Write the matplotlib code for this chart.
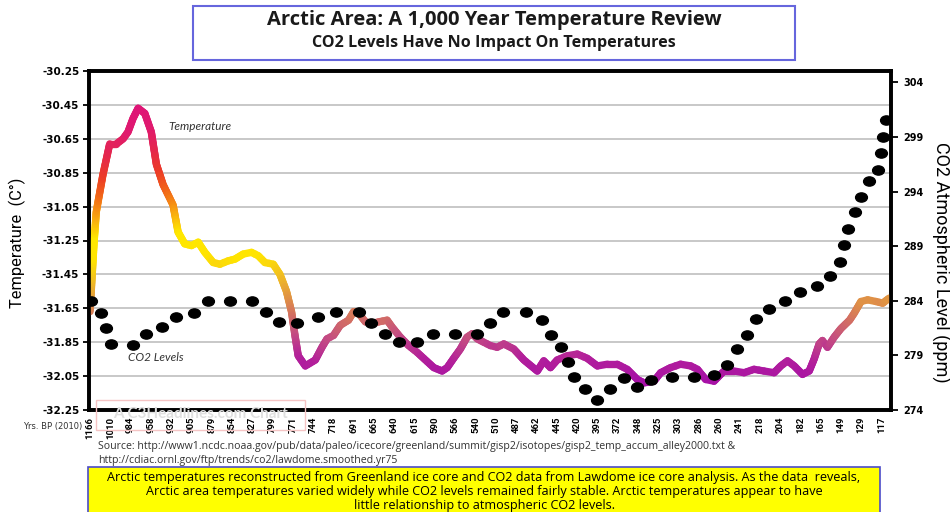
import numpy as np
import matplotlib
matplotlib.use("Agg")
import matplotlib.pyplot as plt
from matplotlib.collections import LineCollection
from matplotlib.colors import LinearSegmentedColormap, Normalize
from matplotlib.patches import Rectangle
from matplotlib.path import Path
from matplotlib import font_manager as fm

plt.rcParams['axes.unicode_minus'] = False

# ---------------- data ----------------
year_labels = ["1166", "1010", "984", "958", "932", "905", "879", "854", "827", "799",
               "771", "744", "718", "691", "665", "640", "615", "590", "566", "540",
               "510", "487", "462", "445", "420", "395", "372", "348", "325", "303",
               "286", "260", "241", "218", "204", "182", "165", "149", "129", "117"]

# temperature series (position on the category axis, value in deg C)
temp_pos = [0.00, 0.20, 0.31, 0.64, 0.97, 1.30, 1.63, 1.87, 2.12, 2.37,
            2.70, 3.02, 3.27, 3.60, 4.09, 4.34, 4.67, 5.00, 5.33, 5.66,
            6.07, 6.40, 6.81, 7.14, 7.55, 7.96, 8.29, 8.62, 9.03, 9.36,
            9.68, 9.93, 10.10, 10.26, 10.61, 11.10, 11.43, 11.68, 12.00, 12.33,
            12.74, 12.99, 13.24, 13.57, 13.90, 14.22, 14.64, 14.88, 15.29, 15.70,
            16.12, 16.53, 16.94, 17.35, 17.60, 17.92, 18.25, 18.58, 18.83, 19.08,
            19.40, 19.73, 20.06, 20.39, 20.88, 21.38, 22.04, 22.36, 22.69, 23.02,
            23.52, 24.01, 24.50, 25.00, 25.49, 25.98, 26.47, 26.97, 27.30, 27.79,
            28.12, 28.61, 29.10, 29.60, 29.93, 30.34, 30.75, 31.24, 31.73, 32.23,
            32.72, 33.21, 33.71, 34.04, 34.37, 34.70, 35.11, 35.44, 35.68, 35.93,
            36.09, 36.34, 36.67, 37.00, 37.43, 37.65, 37.99, 38.32, 38.73, 39.06,
            39.38]
temp_vals = [-31.67, -31.26, -31.08, -30.86, -30.68, -30.68, -30.65, -30.61, -30.53, -30.47,
             -30.50, -30.61, -30.80, -30.92, -31.04, -31.20, -31.27, -31.28, -31.26, -31.32,
             -31.38, -31.39, -31.37, -31.36, -31.33, -31.32, -31.34, -31.38, -31.39, -31.45,
             -31.55, -31.67, -31.81, -31.93, -31.99, -31.955, -31.88, -31.83, -31.81, -31.75,
             -31.72, -31.67, -31.68, -31.73, -31.74, -31.73, -31.72, -31.76, -31.82, -31.87,
             -31.91, -31.955, -32.00, -32.02, -32.00, -31.945, -31.89, -31.82, -31.80, -31.83,
             -31.85, -31.87, -31.88, -31.86, -31.89, -31.955, -32.02, -31.96, -32.00, -31.955,
             -31.93, -31.92, -31.945, -31.99, -31.98, -31.98, -32.01, -32.07, -32.09, -32.08,
             -32.03, -32.00, -31.98, -31.99, -32.01, -32.07, -32.08, -32.02, -32.02, -32.03,
             -32.01, -32.02, -32.03, -31.99, -31.96, -31.99, -32.04, -32.02, -31.95, -31.86,
             -31.84, -31.88, -31.82, -31.77, -31.72, -31.68, -31.61, -31.60, -31.61, -31.62,
             -31.59]

# CO2 series (position on the category axis, ppm)
co2_pos = [0.06, 0.56, 0.80, 1.05, 2.12, 2.78, 3.55, 4.23, 5.13, 5.79,
           6.89, 7.99, 8.67, 9.31, 10.21, 11.21, 12.12, 13.24, 13.86, 14.52,
           15.21, 16.12, 16.89, 17.97, 19.08, 19.72, 20.35, 21.47, 22.25, 22.73,
           23.20, 23.57, 23.86, 24.38, 25.00, 25.63, 26.32, 26.97, 27.64, 28.66,
           29.76, 30.75, 31.41, 31.90, 32.36, 32.81, 33.46, 34.25, 34.98, 35.82,
           36.47, 36.95, 37.17, 37.33, 37.72, 37.99, 38.37, 38.84, 38.97, 39.09,
           39.22]
co2_vals = [284.0, 282.9, 281.5, 280.0, 279.95, 281.0, 281.6, 282.5, 282.9, 284.0,
            284.0, 284.0, 283.0, 282.1, 282.0, 282.5, 283.0, 283.0, 282.0, 281.0,
            280.25, 280.25, 281.0, 281.0, 281.0, 282.0, 283.0, 283.0, 282.2, 280.9,
            279.8, 278.4, 277.0, 275.9, 274.9, 275.95, 276.9, 276.1, 276.75, 277.0,
            277.0, 277.2, 278.1, 279.55, 280.9, 282.3, 283.25, 284.0, 284.8, 285.35,
            286.3, 287.6, 289.1, 290.6, 292.1, 293.5, 295.0, 296.0, 297.5, 299.0,
            300.55]

temp_ticks = [-32.25, -32.05, -31.85, -31.65, -31.45, -31.25, -31.05, -30.85, -30.65, -30.45, -30.25]
co2_ticks = [274, 279, 284, 289, 294, 299, 304]

# ---------------- fonts ----------------
names = {f.name for f in fm.fontManager.ttflist}
def pick(*cands):
    for n in cands:
        if n in names:
            return n
    return 'DejaVu Sans'

F_NARROW = pick('Liberation Sans Narrow', 'Roboto', 'DejaVu Sans')
F_HUM = pick('Lato', 'Open Sans', 'DejaVu Sans')
F_OPEN = pick('Open Sans', 'Lato', 'DejaVu Sans')

# ---------------- figure ----------------
fig = plt.figure(figsize=(9.5, 5.12), dpi=100)
W, H = 950.0, 512.0
def fx(px): return px / W
def fy(py): return 1 - py / H

ax = fig.add_axes([fx(89), fy(410), fx(891) - fx(89), fy(71) - fy(410)])
ax.set_xlim(-0.05, 39.47)
ax.set_ylim(-32.25, -30.25)
ax.set_yticks(temp_ticks)
ax.set_yticklabels(["%.2f" % t for t in temp_ticks], fontsize=7.5, fontweight='bold',
                   family='DejaVu Sans')
ax.yaxis.grid(True, color='#C4C4C4', lw=1.3)
ax.set_axisbelow(True)
ax.tick_params(axis='y', direction='out', length=4, width=1.3, pad=3, color='black')
ax.set_xticks(range(len(year_labels)))
ax.set_xticklabels(year_labels, rotation=90, fontsize=6.8, fontweight='bold',
                   family=F_NARROW)
ax.tick_params(axis='x', length=0, pad=5)
for s in ax.spines.values():
    s.set_linewidth(2.6)
    s.set_color('black')

# gradient temperature line (coloured by temperature level)
stops = [(-32.10, '#A50FA8'), (-31.95, '#B3209A'), (-31.82, '#C44C82'),
         (-31.70, '#D47260'), (-31.58, '#E39A3E'), (-31.45, '#F4C51C'),
         (-31.35, '#FFE400'), (-31.22, '#FFE800'), (-31.10, '#F8A810'),
         (-30.98, '#F26A18'), (-30.86, '#EC3C26'), (-30.72, '#E42650'),
         (-30.60, '#E01A6E'), (-30.45, '#DE1478')]
lo, hi = stops[0][0], stops[-1][0]
cmap = LinearSegmentedColormap.from_list(
    'tgrad', [((v - lo) / (hi - lo), c) for v, c in stops])
norm = Normalize(lo, hi)

xs_all = np.asarray(temp_pos, float)
ys_all = np.asarray(temp_vals, float)
segs, cols = [], []
for i in range(len(xs_all) - 1):
    n = max(2, int(abs(ys_all[i + 1] - ys_all[i]) / 0.01) + 2)
    t = np.linspace(0, 1, n)
    xs = xs_all[i] + (xs_all[i + 1] - xs_all[i]) * t
    ys = ys_all[i] + (ys_all[i + 1] - ys_all[i]) * t
    for j in range(n - 1):
        segs.append([[xs[j], ys[j]], [xs[j + 1], ys[j + 1]]])
        cols.append(0.5 * (ys[j] + ys[j + 1]))
lc = LineCollection(segs, cmap=cmap, norm=norm, linewidths=5.3, zorder=3)
lc.set_array(np.array(cols))
lc.set_capstyle('round')
lc.set_joinstyle('round')
ax.add_collection(lc)

ax.text(5.43, -30.58, 'Temperature', fontsize=8.5, style='italic', color='#333333',
        family=F_HUM, ha='center', va='center')
ax.text(3.26, -31.94, 'CO2 Levels', fontsize=8.5, style='italic', color='#333333',
        family=F_HUM, ha='center', va='center')

fig.text(fx(17), fy(243), 'Temperature  (C°)', rotation=90, fontsize=11.8,
         family=F_NARROW, ha='center', va='center')

# CO2 axis
ax2 = ax.twinx()
ax2.set_ylim(274, 305.05)
ax2.set_yticks(co2_ticks)
ax2.set_yticklabels([str(v) for v in co2_ticks], fontsize=7, fontweight='bold',
                    family='DejaVu Sans')
ax2.tick_params(axis='y', direction='out', length=5, width=1.3, pad=4)
for s in ax2.spines.values():
    s.set_linewidth(2.6)
circ = Path.unit_circle()
ell = Path(circ.vertices * np.array([1.0, 0.78]), circ.codes)
ax2.plot(co2_pos, co2_vals, linestyle='none', marker=ell, markersize=8.5,
         color='black', zorder=4)
fig.text(fx(941), fy(262), 'CO2 Atmospheric Level (ppm)', rotation=-90, fontsize=13,
         family=F_NARROW, ha='center', va='center')

# x axis caption
fig.text(fx(53), fy(427), 'Yrs. BP (2010)', fontsize=6, color='#333333',
         family='DejaVu Sans', ha='center', va='center')

# watermark (sits behind the axis labels, as in the original)
fig.patches.append(Rectangle((fx(96), fy(430)), fx(305) - fx(96), fy(400) - fy(430),
                             transform=fig.transFigure, fill=False,
                             edgecolor='#F5C4C4', lw=1.0, zorder=0))
fig.text(fx(200), fy(414), 'A C3Headlines.com Chart', fontsize=11, fontweight='bold',
         color='#E0E0E0', family=F_HUM, ha='center', va='center', zorder=0)

# title box
fig.patches.append(Rectangle((fx(193), fy(60)), fx(795) - fx(193), fy(6) - fy(60),
                             transform=fig.transFigure, facecolor='white',
                             edgecolor='#6666DD', lw=1.5, zorder=1))
fig.text(fx(494), fy(20), 'Arctic Area: A 1,000 Year Temperature Review', fontsize=14.5,
         fontweight='bold', family=F_OPEN, ha='center', va='center', color='#1a1a1a')
fig.text(fx(494), fy(43), 'CO2 Levels Have No Impact On Temperatures', fontsize=11.6,
         fontweight='bold', family=F_OPEN, ha='center', va='center', color='#1a1a1a')

# source
fig.text(fx(98), fy(447), 'Source: http://www1.ncdc.noaa.gov/pub/data/paleo/icecore/greenland/'
         'summit/gisp2/isotopes/gisp2_temp_accum_alley2000.txt &', fontsize=7.6,
         family=F_OPEN, ha='left', va='center', color='#333333')
fig.text(fx(98), fy(461), 'http://cdiac.ornl.gov/ftp/trends/co2/lawdome.smoothed.yr75',
         fontsize=7.6, family=F_OPEN, ha='left', va='center', color='#333333')

# yellow note box
fig.patches.append(Rectangle((fx(88), fy(514)), fx(880) - fx(88), fy(467) - fy(514),
                             transform=fig.transFigure, facecolor='#FFFF00',
                             edgecolor='#4B4BC8', lw=1.2, zorder=1))
note = ["Arctic temperatures reconstructed from Greenland ice core and CO2 data from Lawdome ice core analysis. As the data  reveals,",
        "Arctic area temperatures varied widely while CO2 levels remained fairly stable. Arctic temperatures appear to have",
        "little relationship to atmospheric CO2 levels."]
for k, line in enumerate(note):
    fig.text(fx(484), fy(477 + 14 * k), line, fontsize=9.1, family=F_OPEN,
             ha='center', va='center', color='black', zorder=2)

fig.savefig('out.png', dpi=100)
